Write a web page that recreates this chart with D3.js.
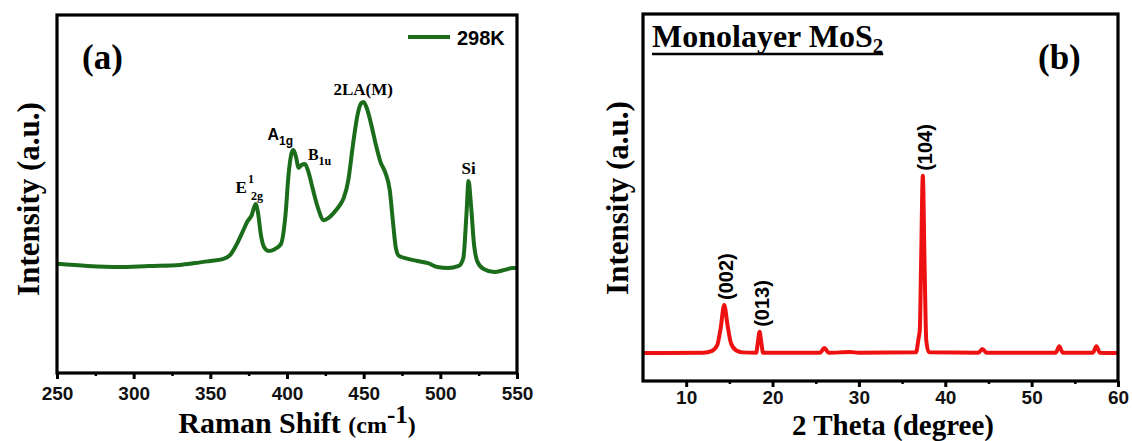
<!DOCTYPE html>
<html>
<head>
<meta charset="utf-8">
<script src="https://cdn.jsdelivr.net/npm/d3@7"></script>
<style>
  body { margin: 0; background: #fff; }
  svg { display: block; }
  .serif { font-family: "Liberation Serif", "Times New Roman", serif; font-weight: bold; }
  .sans { font-family: "Liberation Sans", Arial, sans-serif; font-weight: bold; }
</style>
</head>
<body>
<svg id="chart" width="1132" height="441"></svg>
<script>
// (a) Raman spectrum, 298K
const ramanShift = [250, 270, 290, 310, 330, 340, 350, 358, 363, 367, 371, 374, 377, 379.5, 381, 383, 385, 388, 392, 396,
  399, 401, 403, 404.2, 406, 407.5, 409.5, 411.7, 414, 417, 420, 424, 427, 431, 434, 437, 440, 443, 446, 448.5,
  450, 452, 455, 458, 461, 464, 467, 469, 471, 473, 477, 485, 492, 498, 505, 512, 515, 517, 518.4, 520,
  522, 524, 528, 535, 542, 547, 550];
const ramanIntensity = [30.5, 29.9, 29.6, 29.9, 30.2, 30.7, 31.3, 31.8, 33.0, 35.8, 39.4, 42.2, 44.1, 47.2, 45.0, 38.5, 35.2, 34.1, 34.6, 36.0,
  44.1, 55.3, 61.5, 62.3, 60.1, 57.3, 58.1, 58.4, 56.1, 51.1, 46.4, 42.7, 43.3, 45.0, 46.6, 48.9, 53.9, 63.7, 72.1, 75.4,
  75.7, 74.0, 69.3, 63.7, 58.9, 56.1, 51.1, 42.7, 34.9, 32.7, 32.1, 31.3, 30.7, 29.6, 29.3, 29.9, 32.1, 44.1, 53.6, 46.9,
  35.8, 31.3, 29.1, 28.2, 28.8, 29.3, 29.3];
const ramanTicks = [250, 300, 350, 400, 450, 500, 550];
const ramanMinor = [275, 325, 375, 425, 475, 525];

// (b) XRD pattern, monolayer MoS2
const xrdAngle = [5, 12, 13, 13.6, 14.0, 14.4, 14.8, 15.2, 15.8, 16.5, 18.1, 18.3, 18.5, 18.7, 18.9, 25.5, 26.0, 26.5, 29, 30,
  36.6, 36.9, 37.05, 37.2, 37.4, 37.6, 37.8, 38.1, 43.8, 44.3, 44.8, 52.8, 53.2, 53.6, 57.1, 57.5, 57.9, 60];
const xrdIntensity = [7.6, 7.7, 8.2, 9.8, 14.5, 20.7, 15.0, 10.2, 8.3, 7.8, 7.7, 10.5, 13.4, 10.5, 7.7, 7.7, 9.0, 7.7, 7.9, 7.7,
  7.8, 11.5, 13.9, 32.0, 55.9, 32.0, 11.0, 7.8, 7.7, 8.7, 7.7, 7.7, 9.5, 7.7, 7.7, 9.5, 7.7, 7.6];
const xrdTicks = [10, 20, 30, 40, 50, 60];
const xrdMinor = [15, 25, 35, 45, 55];
const xrdPeaks = [
  { angle: 14.4, label: "(002)", top: 20.7 },
  { angle: 18.5, label: "(013)", top: 13.4 },
  { angle: 37.4, label: "(104)", top: 55.9 }
];

const svg = d3.select("#chart");

function drawPanel(o) {
  const x = d3.scaleLinear().domain(o.xDomain).range([o.left, o.right]);
  const y = d3.scaleLinear().domain([0, 100]).range([o.bottom, o.top]);

  const g = svg.append("g");

  // bottom axis: major + minor ticks
  g.append("g")
    .attr("transform", `translate(0,${o.bottom})`)
    .call(d3.axisBottom(x).tickValues(o.minor).tickSize(3).tickFormat(""))
    .call(a => a.select(".domain").remove())
    .call(a => a.selectAll("line").attr("stroke", "#000").attr("stroke-width", 2.5));

  g.append("g")
    .attr("transform", `translate(0,${o.bottom})`)
    .call(d3.axisBottom(x).tickValues(o.ticks).tickSize(6).tickPadding(o.pad).tickFormat(d3.format("d")))
    .call(a => a.select(".domain").remove())
    .call(a => a.selectAll("line").attr("stroke", "#000").attr("stroke-width", 3))
    .call(a => a.selectAll("text")
      .attr("class", "sans")
      .attr("font-size", 19)
      .attr("fill", "#111"));

  // data line
  const line = d3.line()
    .x((d, i) => x(o.xs[i]))
    .y(d => y(d))
    .curve(d3.curveMonotoneX);

  g.append("path")
    .datum(o.ys)
    .attr("d", line)
    .attr("fill", "none")
    .attr("stroke", o.color)
    .attr("stroke-width", 4)
    .attr("stroke-linejoin", "round");

  // frame
  g.append("rect")
    .attr("x", o.left)
    .attr("y", o.top)
    .attr("width", o.right - o.left)
    .attr("height", o.bottom - o.top)
    .attr("fill", "none")
    .attr("stroke", "#000")
    .attr("stroke-width", 3.2);

  // y label
  g.append("text")
    .attr("class", "serif")
    .attr("font-size", 31)
    .attr("text-anchor", "middle")
    .attr("transform", `translate(${o.yLabelX},${o.yLabelY}) rotate(-90)`)
    .text("Intensity (a.u.)");

  return { g, x, y };
}

// ---------- panel (a) ----------
const pa = drawPanel({
  left: 57, right: 517, top: 15, bottom: 373,
  xDomain: [250, 550], ticks: ramanTicks, minor: ramanMinor, pad: 8,
  xs: ramanShift, ys: ramanIntensity, color: "#1b6d1b",
  yLabelX: 39, yLabelY: 199
});

const ta = pa.g.append("text")
  .attr("class", "serif")
  .attr("x", 297)
  .attr("y", 433)
  .attr("text-anchor", "middle");
ta.append("tspan").attr("font-size", 30).text("Raman Shift ");
ta.append("tspan").attr("font-size", 24).text("(cm");
ta.append("tspan").attr("font-size", 25).attr("dy", -10).text("-1");
ta.append("tspan").attr("font-size", 24).attr("dy", 10).text(")");

pa.g.append("text")
  .attr("class", "serif")
  .attr("font-size", 35)
  .attr("x", 82)
  .attr("y", 69)
  .text("(a)");

// legend
pa.g.append("line")
  .attr("x1", 408).attr("x2", 450)
  .attr("y1", 37).attr("y2", 37)
  .attr("stroke", "#1b6d1b")
  .attr("stroke-width", 4);
pa.g.append("text")
  .attr("class", "sans")
  .attr("font-size", 20)
  .attr("x", 457)
  .attr("y", 45)
  .text("298K");

// peak labels
const e = pa.g.append("text").attr("class", "serif").attr("x", pa.x(379.5) - 20).attr("y", 193);
e.append("tspan").attr("font-size", 17).text("E");
e.append("tspan").attr("font-size", 12).attr("dx", 1).attr("dy", -10).text("1");
e.append("tspan").attr("font-size", 12).attr("dx", -3).attr("dy", 17).text("2g");

const a1 = pa.g.append("text").attr("class", "sans").attr("x", pa.x(404.2) - 26).attr("y", 140);
a1.append("tspan").attr("font-size", 16).text("A");
a1.append("tspan").attr("font-size", 12).attr("dy", 5).text("1g");

const b1 = pa.g.append("text").attr("class", "serif").attr("x", pa.x(411.7) + 3).attr("y", 160);
b1.append("tspan").attr("font-size", 16).text("B");
b1.append("tspan").attr("font-size", 12).attr("dy", 5).text("1u");

pa.g.append("text").attr("class", "serif").attr("font-size", 17)
  .attr("x", pa.x(449) + 1).attr("y", 95).attr("text-anchor", "middle").text("2LA(M)");
pa.g.append("text").attr("class", "serif").attr("font-size", 17)
  .attr("x", pa.x(518.4)).attr("y", 174).attr("text-anchor", "middle").text("Si");

// ---------- panel (b) ----------
const pb = drawPanel({
  left: 643, right: 1118, top: 14, bottom: 381,
  xDomain: [5, 60], ticks: xrdTicks, minor: xrdMinor, pad: 4,
  xs: xrdAngle, ys: xrdIntensity, color: "#ee1111",
  yLabelX: 628, yLabelY: 198
});

pb.g.append("text")
  .attr("class", "serif")
  .attr("font-size", 29)
  .attr("x", 893)
  .attr("y", 434.5)
  .attr("text-anchor", "middle")
  .text("2 Theta (degree)");

pb.g.append("text")
  .attr("class", "serif")
  .attr("font-size", 35)
  .attr("x", 1038)
  .attr("y", 69)
  .text("(b)");

const mono = pb.g.append("text")
  .attr("class", "serif")
  .attr("x", 652)
  .attr("y", 47);
mono.append("tspan").attr("font-size", 32).text("Monolayer MoS");
mono.append("tspan").attr("font-size", 21).attr("dy", 6).text("2");
const mw = mono.node().getComputedTextLength();
pb.g.append("line")
  .attr("x1", 652).attr("x2", 652 + mw)
  .attr("y1", 54).attr("y2", 54)
  .attr("stroke", "#000")
  .attr("stroke-width", 2.5);

pb.g.selectAll(".peak")
  .data(xrdPeaks)
  .join("text")
  .attr("class", "sans")
  .attr("font-size", 20)
  .attr("transform", d => `translate(${pb.x(d.angle) + 9},${pb.y(d.top) - 5}) rotate(-90)`)
  .text(d => d.label);
</script>
</body>
</html>
